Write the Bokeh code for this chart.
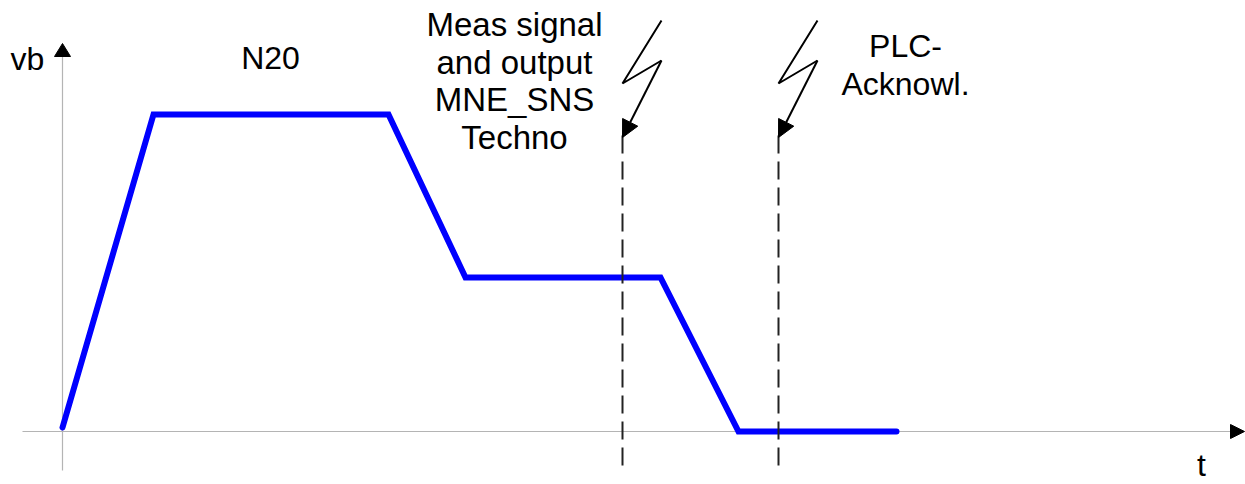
from bokeh.plotting import figure
from bokeh.models import Range1d, Arrow, NormalHead
from bokeh.embed import file_html
from bokeh.resources import INLINE
from bokeh.core.properties import value

# ---- data (t and vb in drawing units) ----
t_ms = [0, 91, 326, 403, 598, 676, 834]
vb_speed = [4, 317, 317, 154, 154, 0, 0]

event_times = [560, 716]
event_labels = [["Meas signal", "and output", "MNE_SNS", "Techno"],
                ["PLC-", "Acknowl."]]
phase_label = "N20"

FONT = value("Liberation Sans")

p = figure(width=1245, height=484, output_backend="svg", toolbar_location=None,
           x_range=Range1d(-62, 1183), y_range=Range1d(-53, 431),
           x_axis_location=None, y_axis_location=None, min_border=0)
p.grid.visible = False
p.outline_line_color = None
p.background_fill_color = "white"
p.border_fill_color = "white"

AX = "#b4b4b4"
# horizontal axis
p.line([-40, 1168], [0, 0], line_color=AX, line_width=1.2)
p.patch([1168, 1182, 1168], [7, 0, -7], fill_color="black", line_color="black", line_width=1)
# vertical axis
p.line([0, 0], [-39, 376], line_color=AX, line_width=1.2)
p.patch([-8, 0, 8], [375, 388, 375], fill_color="black", line_color="black", line_width=1)

# speed profile
p.line(t_ms, vb_speed, line_color="#0000ff", line_width=6,
       line_cap="round", line_join="miter")

# event markers: dashed line + lightning bolt
for te in event_times:
    p.line([te, te], [-34, 296], line_color="#222222", line_width=2, line_dash="18 8")
    p.line([te + 39, te, te + 39], [411, 348, 371], line_color="black", line_width=2)
    p.add_layout(Arrow(x_start=te + 39, y_start=371, x_end=te, y_end=294,
                       line_color="black", line_width=2,
                       end=NormalHead(size=17, fill_color="black", line_color="black", line_width=1)))

DY = 12  # text baseline correction

def txt(x, y, s, align="center", size="32px"):
    p.text(x=[x], y=[y + DY], text=[s], text_font=FONT, text_font_size=size,
           text_align=align, text_baseline="alphabetic", text_color="black")

# labels
txt(-52, 361, "vb", "left")
txt(1139, -45, "t")
txt(208, 362, phase_label)

meas_x = 452
for i, s in enumerate(event_labels[0]):
    txt(meas_x, 395 - 37.7 * i, s, size="33px")
plc_x = 843
for i, s in enumerate(event_labels[1]):
    txt(plc_x, 374 - 38 * i, s)

open("out.html", "w").write(file_html(p, INLINE))
